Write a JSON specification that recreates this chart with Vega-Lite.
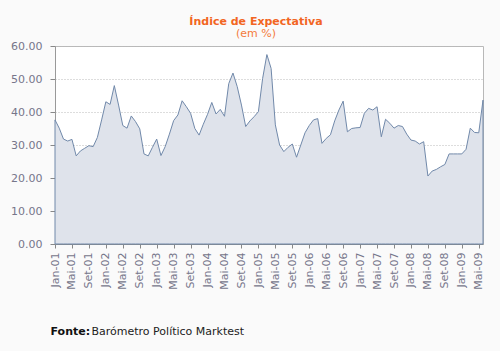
{
  "$schema": "https://vega.github.io/schema/vega-lite/v6.json",
  "width": 428,
  "height": 198,
  "autosize": "none",
  "padding": {"left": 55, "top": 46, "right": 17, "bottom": 107},
  "background": "#fafafa",
  "title": {
    "text": "Índice de Expectativa",
    "subtitle": "(em %)",
    "font": "DejaVu Sans",
    "fontSize": 11,
    "fontWeight": "bold",
    "color": "#f26522",
    "subtitleFont": "DejaVu Sans",
    "subtitleFontSize": 11,
    "subtitleColor": "#f47a3c",
    "subtitlePadding": 1,
    "anchor": "middle",
    "dx": -13,
    "offset": 1
  },
  "config": {
    "view": {"fill": "white", "stroke": "#b8b8b8"},
    "font": "DejaVu Sans"
  },
  "data": {
    "values": [
      {"m": "Jan-01", "v": 37.6}, {"m": "Fev-01", "v": 35.1}, {"m": "Mar-01", "v": 31.8}, {"m": "Abr-01", "v": 31.2},
      {"m": "Mai-01", "v": 31.7}, {"m": "Jun-01", "v": 26.7}, {"m": "Jul-01", "v": 28.2}, {"m": "Ago-01", "v": 29.0},
      {"m": "Set-01", "v": 29.8}, {"m": "Out-01", "v": 29.5}, {"m": "Nov-01", "v": 32.3}, {"m": "Dez-01", "v": 37.6},
      {"m": "Jan-02", "v": 43.1}, {"m": "Fev-02", "v": 42.3}, {"m": "Mar-02", "v": 48.0}, {"m": "Abr-02", "v": 42.1},
      {"m": "Mai-02", "v": 35.9}, {"m": "Jun-02", "v": 35.1}, {"m": "Jul-02", "v": 38.8}, {"m": "Ago-02", "v": 37.1},
      {"m": "Set-02", "v": 34.9}, {"m": "Out-02", "v": 27.3}, {"m": "Nov-02", "v": 26.7}, {"m": "Dez-02", "v": 29.3},
      {"m": "Jan-03", "v": 31.8}, {"m": "Fev-03", "v": 26.8}, {"m": "Mar-03", "v": 29.5}, {"m": "Abr-03", "v": 33.3},
      {"m": "Mai-03", "v": 37.4}, {"m": "Jun-03", "v": 39.1}, {"m": "Jul-03", "v": 43.4}, {"m": "Ago-03", "v": 41.6},
      {"m": "Set-03", "v": 39.6}, {"m": "Out-03", "v": 35.0}, {"m": "Nov-03", "v": 33.0}, {"m": "Dez-03", "v": 36.3},
      {"m": "Jan-04", "v": 39.3}, {"m": "Fev-04", "v": 42.9}, {"m": "Mar-04", "v": 39.4}, {"m": "Abr-04", "v": 40.8},
      {"m": "Mai-04", "v": 38.7}, {"m": "Jun-04", "v": 48.6}, {"m": "Jul-04", "v": 51.8}, {"m": "Ago-04", "v": 47.7},
      {"m": "Set-04", "v": 42.1}, {"m": "Out-04", "v": 35.6}, {"m": "Nov-04", "v": 37.3}, {"m": "Dez-04", "v": 38.6},
      {"m": "Jan-05", "v": 40.1}, {"m": "Fev-05", "v": 50.2}, {"m": "Mar-05", "v": 57.4}, {"m": "Abr-05", "v": 53.2},
      {"m": "Mai-05", "v": 36.1}, {"m": "Jun-05", "v": 30.0}, {"m": "Jul-05", "v": 28.0}, {"m": "Ago-05", "v": 29.3},
      {"m": "Set-05", "v": 30.3}, {"m": "Out-05", "v": 26.3}, {"m": "Nov-05", "v": 30.0}, {"m": "Dez-05", "v": 33.7},
      {"m": "Jan-06", "v": 35.9}, {"m": "Fev-06", "v": 37.6}, {"m": "Mar-06", "v": 38.0}, {"m": "Abr-06", "v": 30.5},
      {"m": "Mai-06", "v": 32.0}, {"m": "Jun-06", "v": 33.1}, {"m": "Jul-06", "v": 37.3}, {"m": "Ago-06", "v": 40.6},
      {"m": "Set-06", "v": 43.3}, {"m": "Out-06", "v": 34.0}, {"m": "Nov-06", "v": 35.0}, {"m": "Dez-06", "v": 35.2},
      {"m": "Jan-07", "v": 35.3}, {"m": "Fev-07", "v": 39.6}, {"m": "Mar-07", "v": 41.1}, {"m": "Abr-07", "v": 40.6},
      {"m": "Mai-07", "v": 41.6}, {"m": "Jun-07", "v": 32.5}, {"m": "Jul-07", "v": 37.8}, {"m": "Ago-07", "v": 36.6},
      {"m": "Set-07", "v": 35.1}, {"m": "Out-07", "v": 35.9}, {"m": "Nov-07", "v": 35.6}, {"m": "Dez-07", "v": 33.3},
      {"m": "Jan-08", "v": 31.5}, {"m": "Fev-08", "v": 31.2}, {"m": "Mar-08", "v": 30.3}, {"m": "Abr-08", "v": 31.0},
      {"m": "Mai-08", "v": 20.6}, {"m": "Jun-08", "v": 22.1}, {"m": "Jul-08", "v": 22.6}, {"m": "Ago-08", "v": 23.4},
      {"m": "Set-08", "v": 24.1}, {"m": "Out-08", "v": 27.3}, {"m": "Nov-08", "v": 27.3}, {"m": "Dez-08", "v": 27.3},
      {"m": "Jan-09", "v": 27.3}, {"m": "Fev-09", "v": 28.7}, {"m": "Mar-09", "v": 35.1}, {"m": "Abr-09", "v": 33.8},
      {"m": "Mai-09", "v": 33.7}, {"m": "Jun-09", "v": 43.6}
    ]
  },
  "mark": {"type": "area", "fill": "#dfe3eb", "fillOpacity": 1, "stroke": "#7189aa", "strokeWidth": 1},
  "encoding": {
    "x": {
      "field": "m",
      "type": "ordinal",
      "sort": null,
      "scale": {"type": "point", "padding": 0},
      "axis": {
        "values": ["Jan-01","Mai-01","Set-01","Jan-02","Mai-02","Set-02","Jan-03","Mai-03","Set-03","Jan-04","Mai-04","Set-04","Jan-05","Mai-05","Set-05","Jan-06","Mai-06","Set-06","Jan-07","Mai-07","Set-07","Jan-08","Mai-08","Set-08","Jan-09","Mai-09"],
        "labelAngle": -90,
        "labelFontSize": 11,
        "labelColor": "#76768a",
        "labelPadding": 4,
        "labelOverlap": false,
        "tickSize": 4,
        "tickColor": "#888888",
        "domainColor": "#888888",
        "grid": false,
        "title": "Barómetro Político Marktest",
        "titleX": 36,
        "titleY": 90,
        "titleAlign": "left",
        "titleBaseline": "alphabetic",
        "titleFontWeight": "normal",
        "titleFontSize": 11,
        "titleColor": "#222222"
      }
    },
    "y": {
      "field": "v",
      "type": "quantitative",
      "scale": {"domain": [0, 60]},
      "axis": {
        "values": [0, 10, 20, 30, 40, 50, 60],
        "format": ".2f",
        "labelFontSize": 11,
        "labelColor": "#76768a",
        "labelPadding": 8,
        "tickSize": 5,
        "tickColor": "#888888",
        "domainColor": "#999999",
        "grid": true,
        "gridDash": [1, 2],
        "gridColor": "#bbbbbb",
        "title": "Fonte:",
        "titleAngle": 0,
        "titleX": -5,
        "titleY": 288,
        "titleAlign": "left",
        "titleBaseline": "alphabetic",
        "titleFontWeight": "bold",
        "titleFontSize": 11,
        "titleColor": "#111111"
      }
    }
  }
}
